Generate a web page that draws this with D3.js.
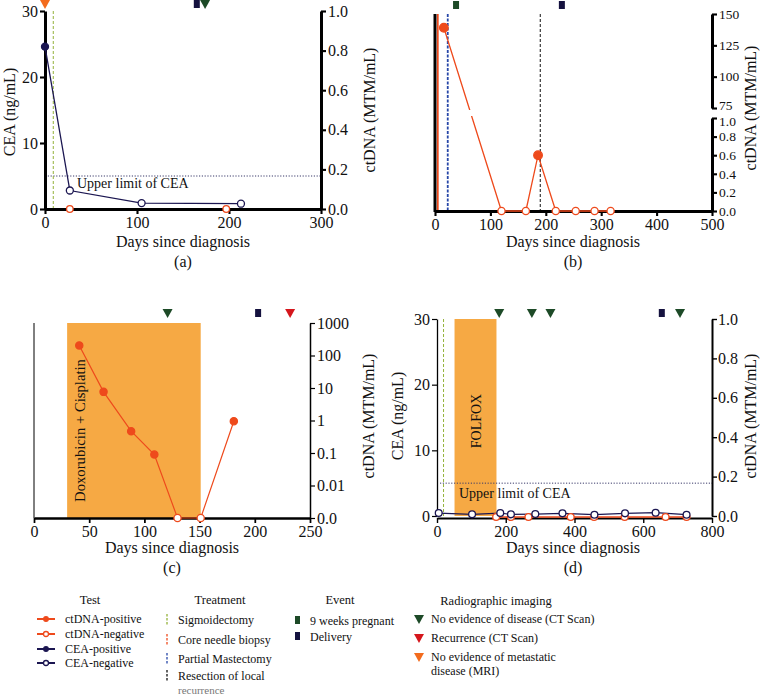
<!DOCTYPE html>
<html><head><meta charset="utf-8">
<script src="https://cdn.jsdelivr.net/npm/d3@7/dist/d3.min.js"></script>
<style>
body{margin:0;background:#fff}
svg{display:block}
</style>
</head><body>
<svg id="chart" width="760" height="696"></svg>
<script>
// ---------- DATA ----------
// Panel (a)
const aCeaDays = [0, 27, 105, 213];
const aCeaVals = [24.6, 2.8, 0.9, 0.8];
const aCeaPositive = [true, false, false, false];
const aCtdnaNegDays = [27, 197];
const aCtdnaNegVals = [0, 0];
const aSigmoidectomyDay = 9;
const aEventDays = [0, 165, 174];
const aEventTypes = ["mri", "delivery", "ned"];
const aXTicks = [0, 100, 200, 300];
const aYTicks = [0, 10, 20, 30];
const aRTicks = [0, 0.2, 0.4, 0.6, 0.8, 1.0];

// Panel (b)
const bCtdnaDays = [16, 120, 164, 186, 218, 254, 288, 317];
const bCtdnaVals = [139, 0, 0, 0.6, 0, 0, 0, 0];
const bCtdnaPositive = [true, false, false, true, false, false, false, false];
const bBiopsyDay = 5;
const bMastectomyDay = 23;
const bResectionDay = 190;
const bEventDays = [38, 229];
const bEventTypes = ["pregnant", "delivery"];
const bXTicks = [0, 100, 200, 300, 400, 500];
const bUpperTicks = [75, 100, 125, 150];
const bLowerTicks = [0, 0.2, 0.4, 0.6, 0.8, 1.0];

// Panel (c)
const cCtdnaDays = [41, 63, 88, 109, 130, 151, 181];
const cCtdnaVals = [204, 7.6, 0.47, 0.09, 0, 0, 0.95];
const cCtdnaPositive = [true, true, true, true, false, false, true];
const cTreatment = ["Doxorubicin + Cisplatin"];
const cTreatmentStart = [30];
const cTreatmentEnd = [151];
const cEventDays = [121, 203, 232];
const cEventTypes = ["ned", "delivery", "recurrence"];
const cXTicks = [0, 50, 100, 150, 200, 250];
const cRTicks = [0.001, 0.01, 0.1, 1, 10, 100, 1000];
const cRTickLabels = ["0.0", "0.01", "0.1", "1", "10", "100", "1000"];

// Panel (d)
const dCeaDays = [5, 102, 184, 215, 286, 365, 458, 547, 636, 726];
const dCeaVals = [0.45, 0.25, 0.45, 0.25, 0.3, 0.4, 0.2, 0.4, 0.5, 0.2];
const dCtdnaDays = [172, 215, 266, 389, 457, 546, 665, 726];
const dCtdnaVals = [0, 0, 0, 0, 0, 0, 0, 0];
const dSigmoidectomyDay = 19;
const dTreatment = ["FOLFOX"];
const dTreatmentStart = [51];
const dTreatmentEnd = [173];
const dEventDays = [181, 276, 330, 654, 707];
const dEventTypes = ["ned", "ned", "ned", "delivery", "ned"];
const dXTicks = [0, 200, 400, 600, 800];
const dYTicks = [0, 10, 20, 30];
const dRTicks = [0, 0.2, 0.4, 0.6, 0.8, 1.0];

const ceaUpperLimit = 5;

// Legend
const legendTest = ["ctDNA-positive", "ctDNA-negative", "CEA-positive", "CEA-negative"];
const legendTreatment = ["Sigmoidectomy", "Core needle biopsy", "Partial Mastectomy", "Resection of local"];
const legendEvent = ["9 weeks pregnant", "Delivery"];
const legendImaging = ["No evidence of disease (CT Scan)", "Recurrence (CT Scan)", "No evidence of metastatic"];

// ---------- STYLE ----------
const FONT = "'Liberation Serif', 'Times New Roman', 'DejaVu Serif', serif";
const C_CTDNA = "#EE4A1C", C_CEA = "#1B1651", C_GREEN = "#1D4A27", C_RED = "#D5161C",
      C_MRI = "#F36B1D", C_BAND = "#F6A944", C_SIG = "#94B23A", C_BLUE = "#2747A8", C_NAVY = "#15123F";

const svg = d3.select("#chart");
const FS = 16;

function styleAxis(g, sw, fs) {
  g.attr("font-family", FONT).attr("font-size", null);
  g.select(".domain").attr("stroke", "#000").attr("stroke-width", sw);
  g.selectAll(".tick line").attr("stroke", "#000").attr("stroke-width", Math.max(1.2, sw * 0.7));
  g.selectAll(".tick text").style("font-size", (fs || FS) + "px").attr("fill", "#111");
  return g;
}
function triPath(x, y, s) { s = s || 5; return `M${x - s},${y - s * 0.8}L${x + s},${y - s * 0.8}L${x},${y + s}Z`; }
function drawEvent(g, type, x, y) {
  if (type === "delivery" || type === "pregnant") {
    g.append("rect").attr("x", x - 3).attr("y", y - 4).attr("width", 6).attr("height", 8)
      .attr("fill", type === "delivery" ? C_NAVY : C_GREEN);
  } else {
    const col = type === "ned" ? C_GREEN : type === "recurrence" ? C_RED : C_MRI;
    g.append("path").attr("d", triPath(x, y, 5)).attr("fill", col);
  }
}
function rotLabel(x, y, txt, fs) {
  svg.append("text").attr("transform", `translate(${x},${y}) rotate(-90)`).attr("text-anchor", "middle")
    .style("font-size", (fs || FS) + "px").text(txt);
}
function hLabel(x, y, txt, fs) {
  svg.append("text").attr("x", x).attr("y", y).attr("text-anchor", "middle").style("font-size", (fs || FS) + "px").text(txt);
}

// ---------- PANEL A ----------
(function () {
  const x = d3.scaleLinear().domain([0, 300]).range([45, 321]);
  const yL = d3.scaleLinear().domain([0, 30]).range([209, 11]);
  const yR = d3.scaleLinear().domain([0, 1]).range([209, 11]);
  const g = svg.append("g");
  g.append("line").attr("x1", x(0)).attr("x2", x(300)).attr("y1", yL(ceaUpperLimit)).attr("y2", yL(ceaUpperLimit))
    .attr("stroke", "#3a3a6a").attr("stroke-width", 1).attr("stroke-dasharray", "1.2,1.6");
  g.append("text").attr("x", 77).attr("y", yL(ceaUpperLimit) + 12).style("font-size", "14px").text("Upper limit of CEA");
  g.append("line").attr("x1", x(aSigmoidectomyDay)).attr("x2", x(aSigmoidectomyDay)).attr("y1", yL(30)).attr("y2", yL(0))
    .attr("stroke", C_SIG).attr("stroke-width", 1).attr("stroke-dasharray", "3,2");
  styleAxis(g.append("g").attr("transform", `translate(0,${yL(0)})`).call(d3.axisBottom(x).tickValues(aXTicks).tickSize(5).tickSizeOuter(0).tickPadding(3)), 3);
  styleAxis(g.append("g").attr("transform", `translate(${x(0)},0)`).call(d3.axisLeft(yL).tickValues(aYTicks).tickSize(5).tickSizeOuter(0).tickPadding(2)), 3);
  styleAxis(g.append("g").attr("transform", `translate(${x(300)},0)`).call(d3.axisRight(yR).tickValues(aRTicks).tickFormat(d3.format(".1f")).tickSize(5).tickSizeOuter(0).tickPadding(2)), 3);
  const pts = aCeaDays.map((d, i) => ({ d, v: aCeaVals[i], p: aCeaPositive[i] }));
  g.append("path").datum(pts).attr("fill", "none").attr("stroke", C_CEA).attr("stroke-width", 1.3)
    .attr("d", d3.line().x(p => x(p.d)).y(p => yL(p.v)));
  g.selectAll(".ac").data(pts).join("circle").attr("cx", p => x(p.d)).attr("cy", p => yL(p.v)).attr("r", 3.5)
    .attr("fill", p => p.p ? C_CEA : "#fff").attr("stroke", C_CEA).attr("stroke-width", 1.3);
  g.selectAll(".an").data(aCtdnaNegDays).join("circle").attr("cx", d => x(d)).attr("cy", (d, i) => yR(aCtdnaNegVals[i])).attr("r", 3.3)
    .attr("fill", "#fff").attr("stroke", C_CTDNA).attr("stroke-width", 1.3);
  aEventDays.forEach((d, i) => drawEvent(g, aEventTypes[i], x(d), 4));
  rotLabel(15, 112, "CEA (ng/mL)");
  rotLabel(375, 110, "ctDNA (MTM/mL)");
  hLabel(183, 247, "Days since diagnosis");
  hLabel(183, 267, "(a)");
})();

// ---------- PANEL B ----------
(function () {
  const x = d3.scaleLinear().domain([0, 500]).range([435, 712]);
  const yU = d3.scaleLinear().domain([75, 150]).range([108, 14]);
  const yLo = d3.scaleLinear().domain([0, 1]).range([211, 118]);
  const yy = v => v > 1 ? yU(v) : yLo(v);
  const g = svg.append("g");
  g.append("line").attr("x1", x(bBiopsyDay)).attr("x2", x(bBiopsyDay)).attr("y1", 14).attr("y2", 211)
    .attr("stroke", C_CTDNA).attr("stroke-width", 1.8);
  g.append("line").attr("x1", x(bMastectomyDay)).attr("x2", x(bMastectomyDay)).attr("y1", 14).attr("y2", 211)
    .attr("stroke", C_BLUE).attr("stroke-width", 1.8).attr("stroke-dasharray", "3,1.5");
  g.append("line").attr("x1", x(bResectionDay)).attr("x2", x(bResectionDay)).attr("y1", 14).attr("y2", 211)
    .attr("stroke", "#111").attr("stroke-width", 1).attr("stroke-dasharray", "3,2");
  g.append("line").attr("x1", x(0)).attr("x2", x(0)).attr("y1", 14).attr("y2", 212).attr("stroke", "#000").attr("stroke-width", 3);
  styleAxis(g.append("g").attr("transform", `translate(0,211)`).call(d3.axisBottom(x).tickValues(bXTicks).tickSize(5).tickSizeOuter(0).tickPadding(3)), 3);
  const up = styleAxis(g.append("g").attr("transform", `translate(${x(500)},0)`).call(d3.axisRight(yU).tickValues(bUpperTicks).tickSize(5).tickSizeOuter(0).tickPadding(2)), 3, 13.5);
  up.selectAll(".tick text").filter(d => d === 75).attr("dy", "0.1em");
  const lo = styleAxis(g.append("g").attr("transform", `translate(${x(500)},0)`).call(d3.axisRight(yLo).tickValues(bLowerTicks).tickFormat(d3.format(".1f")).tickSize(5).tickSizeOuter(0).tickPadding(2)), 3, 13.5);
  lo.selectAll(".tick text").filter(d => d === 1).attr("dy", "0.55em");
  const pts = bCtdnaDays.map((d, i) => ({ d, v: bCtdnaVals[i], p: bCtdnaPositive[i] }));
  const clip = svg.append("defs").append("clipPath").attr("id", "bclip");
  clip.append("rect").attr("x", 430).attr("y", 0).attr("width", 300).attr("height", 110);
  clip.append("rect").attr("x", 430).attr("y", 116).attr("width", 300).attr("height", 110);
  g.append("path").datum(pts).attr("clip-path", "url(#bclip)").attr("fill", "none").attr("stroke", C_CTDNA).attr("stroke-width", 1.3)
    .attr("d", d3.line().x(p => x(p.d)).y(p => yy(p.v)));
  g.selectAll(".bc").data(pts).join("circle").attr("cx", p => x(p.d)).attr("cy", p => yy(p.v)).attr("r", p => p.p ? 4.3 : 3.6)
    .attr("fill", p => p.p ? C_CTDNA : "#fff").attr("stroke", C_CTDNA).attr("stroke-width", 1.3);
  bEventDays.forEach((d, i) => drawEvent(g, bEventTypes[i], x(d), 5));
  rotLabel(756, 108, "ctDNA (MTM/mL)");
  hLabel(573, 247, "Days since diagnosis");
  hLabel(573, 267, "(b)");
})();

// ---------- PANEL C ----------
(function () {
  const x = d3.scaleLinear().domain([0, 250]).range([34, 310]);
  const y = d3.scaleLog().domain([0.001, 1000]).range([518, 323]);
  const g = svg.append("g");
  cTreatment.forEach((t, i) => {
    g.append("rect").attr("x", x(cTreatmentStart[i])).attr("y", y(1000)).attr("width", x(cTreatmentEnd[i]) - x(cTreatmentStart[i]))
      .attr("height", y(0.001) - y(1000)).attr("fill", C_BAND);
    g.append("text").attr("transform", `translate(${x(cTreatmentStart[i]) + 18},${430.5}) rotate(-90)`).attr("text-anchor", "middle")
      .style("font-size", "14.7px").text(t);
  });
  g.append("line").attr("x1", x(0)).attr("x2", x(0)).attr("y1", 323).attr("y2", 518).attr("stroke", "#000").attr("stroke-width", 1);
  styleAxis(g.append("g").attr("transform", `translate(0,518)`).call(d3.axisBottom(x).tickValues(cXTicks).tickSize(5).tickSizeOuter(0).tickPadding(3)), 2.5);
  styleAxis(g.append("g").attr("transform", `translate(${x(250)},0)`).call(d3.axisRight(y).tickValues(cRTicks).tickFormat((d, i) => cRTickLabels[i]).tickSize(5).tickSizeOuter(0).tickPadding(2)), 1.5);
  const pts = cCtdnaDays.map((d, i) => ({ d, v: cCtdnaVals[i] > 0 ? cCtdnaVals[i] : 0.001, p: cCtdnaPositive[i] }));
  g.append("path").datum(pts).attr("fill", "none").attr("stroke", C_CTDNA).attr("stroke-width", 1.2)
    .attr("d", d3.line().x(p => x(p.d)).y(p => y(p.v)));
  g.selectAll(".cc").data(pts).join("circle").attr("cx", p => x(p.d)).attr("cy", p => y(p.v)).attr("r", 3.6)
    .attr("fill", p => p.p ? C_CTDNA : "#fff").attr("stroke", C_CTDNA).attr("stroke-width", 1.3);
  cEventDays.forEach((d, i) => drawEvent(g, cEventTypes[i], x(d), 313));
  rotLabel(374, 416, "ctDNA (MTM/mL)");
  hLabel(172, 553, "Days since diagnosis");
  hLabel(172, 573, "(c)");
})();

// ---------- PANEL D ----------
(function () {
  const x = d3.scaleLinear().domain([0, 800]).range([437, 712]);
  const yL = d3.scaleLinear().domain([0, 30]).range([516, 319]);
  const yR = d3.scaleLinear().domain([0, 1]).range([516, 319]);
  const g = svg.append("g");
  dTreatment.forEach((t, i) => {
    g.append("rect").attr("x", x(dTreatmentStart[i])).attr("y", yL(30)).attr("width", x(dTreatmentEnd[i]) - x(dTreatmentStart[i]))
      .attr("height", yL(0) - yL(30)).attr("fill", C_BAND);
    g.append("text").attr("transform", `translate(${(x(dTreatmentStart[i]) + x(dTreatmentEnd[i])) / 2 + 5},${421}) rotate(-90)`).attr("text-anchor", "middle")
      .style("font-size", "14px").text(t);
  });
  g.append("line").attr("x1", x(dSigmoidectomyDay)).attr("x2", x(dSigmoidectomyDay)).attr("y1", yL(30)).attr("y2", yL(0))
    .attr("stroke", C_SIG).attr("stroke-width", 1).attr("stroke-dasharray", "3,2");
  g.append("line").attr("x1", x(0) + 3).attr("x2", x(800)).attr("y1", yL(ceaUpperLimit)).attr("y2", yL(ceaUpperLimit))
    .attr("stroke", "#3a3a6a").attr("stroke-width", 1).attr("stroke-dasharray", "1.2,1.6");
  g.append("text").attr("x", 459).attr("y", yL(ceaUpperLimit) + 15).style("font-size", "14px").text("Upper limit of CEA");
  styleAxis(g.append("g").attr("transform", `translate(0,518)`).call(d3.axisBottom(x).tickValues(dXTicks).tickSize(5).tickSizeOuter(0).tickPadding(3)), 2);
  styleAxis(g.append("g").attr("transform", `translate(${x(0)},0)`).call(d3.axisLeft(yL).tickValues(dYTicks).tickSize(5).tickSizeOuter(0).tickPadding(2)), 1.3);
  styleAxis(g.append("g").attr("transform", `translate(${x(800)},0)`).call(d3.axisRight(yR).tickValues(dRTicks).tickFormat(d3.format(".1f")).tickSize(5).tickSizeOuter(0).tickPadding(1)), 2);
  const ce = dCeaDays.map((d, i) => ({ d, v: dCeaVals[i] }));
  g.append("path").datum(ce).attr("fill", "none").attr("stroke", C_CEA).attr("stroke-width", 1.2)
    .attr("d", d3.line().x(p => x(p.d)).y(p => yL(p.v)));
  const ct = dCtdnaDays.map((d, i) => ({ d, v: dCtdnaVals[i] }));
  g.append("path").datum(ct).attr("fill", "none").attr("stroke", C_CTDNA).attr("stroke-width", 1.3)
    .attr("d", d3.line().x(p => x(p.d)).y(p => yR(p.v) + 1));
  g.selectAll(".dn").data(ct).join("circle").attr("cx", p => x(p.d)).attr("cy", p => yR(p.v) + 1).attr("r", 3.4)
    .attr("fill", "#fff").attr("stroke", C_CTDNA).attr("stroke-width", 1.3);
  g.selectAll(".dc").data(ce).join("circle").attr("cx", p => x(p.d)).attr("cy", p => yL(p.v)).attr("r", 3.4)
    .attr("fill", "#fff").attr("stroke", C_CEA).attr("stroke-width", 1.3);
  dEventDays.forEach((d, i) => drawEvent(g, dEventTypes[i], x(d), 313));
  rotLabel(403, 416, "CEA (ng/mL)");
  rotLabel(756, 416, "ctDNA (MTM/mL)");
  hLabel(573, 553, "Days since diagnosis");
  hLabel(573, 573, "(d)");
})();

// ---------- LEGEND ----------
(function () {
  const g = svg.append("g");
  const LFS = "12px";
  const head = (x, y, t) => g.append("text").attr("x", x).attr("y", y).attr("text-anchor", "middle").style("font-size", "12.5px").text(t);
  head(90, 604, "Test"); head(220, 604, "Treatment"); head(340, 604, "Event"); head(496, 605, "Radiographic imaging");
  const testY = [623, 638, 653, 667];
  const testCol = [C_CTDNA, C_CTDNA, C_CEA, C_CEA];
  const testFill = [true, false, true, false];
  legendTest.forEach((t, i) => {
    const y = testY[i] - 4;
    g.append("line").attr("x1", 37).attr("x2", 55).attr("y1", y).attr("y2", y).attr("stroke", testCol[i]).attr("stroke-width", 2);
    g.append("circle").attr("cx", 46).attr("cy", y).attr("r", testFill[i] ? 2.3 : 2.5)
      .attr("fill", testFill[i] ? testCol[i] : "#fff").attr("stroke", testCol[i]).attr("stroke-width", 1.3);
    g.append("text").attr("x", 65).attr("y", testY[i]).style("font-size", LFS).text(t);
  });
  const trY = [624, 644, 663, 680];
  const trCol = [C_SIG, C_CTDNA, C_BLUE, "#111"];
  legendTreatment.forEach((t, i) => {
    g.append("line").attr("x1", 167).attr("x2", 167).attr("y1", trY[i] - 10).attr("y2", trY[i] + 1)
      .attr("stroke", trCol[i]).attr("stroke-width", 1.3).attr("stroke-dasharray", "2.5,1.5");
    g.append("text").attr("x", 178).attr("y", trY[i]).style("font-size", LFS).text(t);
  });
  g.append("text").attr("x", 178).attr("y", 694).style("font-size", "11px").style("fill", "#777").text("recurrence");
  const evY = [625, 641];
  const evCol = [C_GREEN, C_NAVY];
  legendEvent.forEach((t, i) => {
    g.append("rect").attr("x", 295).attr("y", evY[i] - 9).attr("width", 5).attr("height", 8).attr("fill", evCol[i]);
    g.append("text").attr("x", 310).attr("y", evY[i]).style("font-size", LFS).text(t);
  });
  const imY = [623, 642, 661];
  const imCol = [C_GREEN, C_RED, C_MRI];
  legendImaging.forEach((t, i) => {
    g.append("path").attr("d", triPath(419, imY[i] - 4, 5)).attr("fill", imCol[i]);
    g.append("text").attr("x", 431).attr("y", imY[i]).style("font-size", LFS).text(t);
  });
  g.append("text").attr("x", 431).attr("y", 675).style("font-size", LFS).text("disease (MRI)");
})();

svg.selectAll("text").style("font-family", FONT).each(function () {
  if (!this.style.fill) d3.select(this).style("fill", "#111");
});
</script>
</body></html>
